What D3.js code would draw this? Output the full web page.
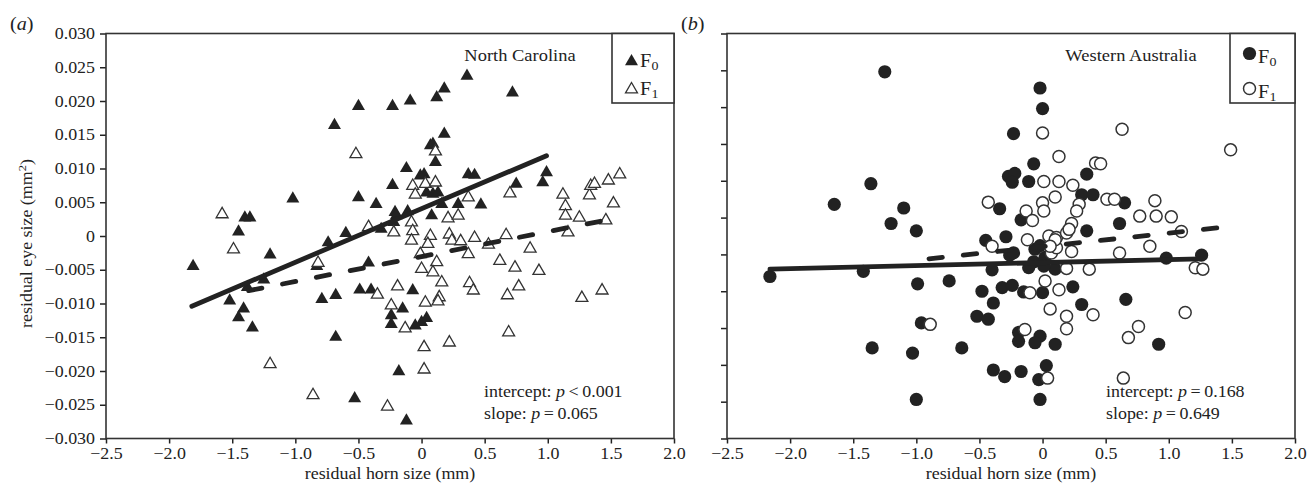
<!DOCTYPE html>
<html>
<head>
<meta charset="utf-8">
<script src="https://cdn.jsdelivr.net/npm/d3@7"></script>
<style>
  body { margin: 0; background: #fff; }
  svg { display: block; }
</style>
</head>
<body>
<svg id="chart" width="1308" height="485"></svg>
<script>
// ---- residual horn size (mm) vs residual eye size (mm^2) ----

// North Carolina, F0 generation [horn, eye]
const ncF0 = [
  [0.36,0.0240],[0.18,0.0221],[0.12,0.0208],[0.72,0.0215],[-0.09,0.0203],[-0.23,0.0195],
  [-0.50,0.0195],[-0.69,0.0167],[0.18,0.0154],[0.07,0.0137],[0.09,0.0139],[0.11,0.0112],
  [-0.12,0.0103],[-0.01,0.0092],[0.02,0.0094],[0.37,0.0094],[0.42,0.0093],[0.99,0.0097],
  [0.75,0.0080],[0.96,0.0082],[-0.23,0.0078],[-0.50,0.0060],[-0.36,0.0050],[0.04,0.0067],
  [0.09,0.0065],[0.13,0.0067],[0.16,0.0050],[0.29,0.0050],[0.47,0.0049],[-1.02,0.0058],
  [-1.40,0.0030],[-1.36,0.0030],[-1.45,0.0009],[-0.60,0.0007],[-0.74,-0.0007],[-0.21,0.0038],
  [-0.11,0.0039],[0.08,0.0033],[-0.20,0.0033],[-0.22,0.0023],[-0.32,0.0013],[-1.20,-0.0025],
  [-1.81,-0.0042],[-0.42,-0.0037],[-0.83,-0.0042],[-1.25,-0.0062],[-1.38,-0.0073],[-1.52,-0.0093],
  [-1.41,-0.0105],[-1.45,-0.0118],[-1.34,-0.0133],[-0.79,-0.0091],[-0.68,-0.0085],[-0.49,-0.0077],
  [-0.40,-0.0077],[-0.68,-0.0147],[-0.15,-0.0105],[-0.24,-0.0115],[-0.24,-0.0128],[-0.18,-0.0198],
  [-0.53,-0.0238],[-0.12,-0.0271],[-0.05,-0.0130],[0.00,-0.0125],[0.04,-0.0119],[-0.07,-0.0078]
];

// North Carolina, F1 generation
const ncF1 = [
  [-0.52,0.0124],[-1.58,0.0035],[-1.49,-0.0017],[-0.82,-0.0037],[-0.42,0.0016],[-0.22,0.0008],
  [-0.19,-0.0072],[-0.35,-0.0084],[-0.24,-0.0100],[-0.13,-0.0134],[-1.20,-0.0187],[-0.86,-0.0233],
  [-0.27,-0.0250],[0.11,0.0128],[-0.07,0.0077],[0.03,0.0080],[0.11,0.0082],[-0.05,0.0064],
  [0.37,0.0060],[0.70,0.0066],[1.12,0.0064],[1.33,0.0063],[1.34,0.0077],[1.37,0.0080],
  [1.48,0.0085],[1.57,0.0094],[1.52,0.0051],[1.14,0.0047],[1.14,0.0033],[1.25,0.0030],
  [0.21,0.0029],[0.29,0.0033],[-0.08,0.0023],[-0.07,0.0010],[-0.08,-0.0004],[0.07,0.0003],
  [0.05,-0.0009],[0.22,0.0005],[0.24,-0.0004],[0.31,-0.0005],[0.42,0.0000],[0.53,-0.0010],
  [0.67,0.0004],[0.86,-0.0016],[1.16,0.0008],[1.46,0.0026],[-0.01,-0.0024],[0.12,-0.0036],
  [0.37,-0.0024],[0.62,-0.0034],[0.74,-0.0044],[0.93,-0.0049],[0.00,-0.0046],[0.09,-0.0051],
  [0.16,-0.0066],[0.38,-0.0067],[0.41,-0.0078],[0.68,-0.0085],[0.77,-0.0072],[1.27,-0.0089],
  [1.43,-0.0078],[0.03,-0.0096],[0.14,-0.0088],[0.13,-0.0094],[0.02,-0.0162],[0.22,-0.0155],
  [0.69,-0.0140],[0.02,-0.0195]
];

// Western Australia, F0 generation
const waF0 = [
  [-1.25,0.0248],[-0.02,0.0226],[0.00,0.0198],[-0.23,0.0164],[-0.07,0.0123],[-0.27,0.0106],
  [-0.22,0.0110],[-0.24,0.0098],[-0.11,0.0099],[-1.10,0.0063],[-0.34,0.0062],[-0.17,0.0047],
  [-1.00,0.0032],[-0.45,0.0019],[-0.29,0.0024],[-0.26,-0.0001],[-0.23,0.0002],[-0.06,0.0007],
  [-0.02,0.0012],[-0.07,-0.0010],[0.02,-0.0004],[-0.40,-0.0021],[-0.11,-0.0018],[0.10,-0.0020],
  [0.01,-0.0016],[-0.99,-0.0040],[-0.74,-0.0036],[-0.48,-0.0050],[-0.32,-0.0045],[-0.24,-0.0042],
  [-0.15,-0.0051],[0.00,-0.0052],[0.24,-0.0044],[-0.39,-0.0066],[-0.52,-0.0084],[-0.43,-0.0088],
  [-0.96,-0.0093],[-0.19,-0.0106],[-0.19,-0.0118],[-0.02,-0.0111],[-0.06,-0.0120],[0.10,-0.0122],
  [-1.03,-0.0134],[-0.64,-0.0127],[-0.39,-0.0157],[-0.30,-0.0166],[-0.17,-0.0159],[0.03,-0.0151],
  [-0.03,-0.0170],[-1.00,-0.0197],[-0.02,-0.0197],[-2.16,-0.0030],[-1.42,-0.0023],[-1.35,-0.0127],
  [-1.36,0.0096],[-1.65,0.0068],[-1.20,0.0042],[0.35,0.0109],[0.31,0.0081],[0.40,0.0081],
  [0.65,0.0070],[0.61,0.0042],[0.35,0.0032],[0.98,-0.0005],[1.26,-0.0001],[0.66,-0.0061],
  [0.31,-0.0068],[0.92,-0.0122]
];

// Western Australia, F1 generation
const waF1 = [
  [0.00,0.0165],[0.13,0.0133],[-0.43,0.0071],[0.01,0.0099],[0.13,0.0099],[0.24,0.0094],
  [0.00,0.0070],[0.10,0.0078],[-0.13,0.0059],[-0.08,0.0046],[0.01,0.0059],[0.23,0.0042],
  [-0.12,0.0020],[0.05,0.0025],[0.11,0.0023],[0.19,0.0029],[-0.40,0.0011],[0.07,0.0002],
  [0.11,0.0009],[0.23,0.0004],[0.19,-0.0019],[0.02,-0.0036],[-0.10,-0.0052],[0.13,-0.0048],
  [0.06,-0.0074],[0.19,-0.0084],[0.19,-0.0101],[-0.14,-0.0102],[-0.89,-0.0095],[0.04,-0.0168],
  [0.63,0.0170],[1.49,0.0142],[0.42,0.0124],[0.46,0.0123],[0.51,0.0075],[0.57,0.0075],
  [0.29,0.0068],[0.27,0.0059],[0.89,0.0073],[0.77,0.0052],[0.90,0.0052],[1.02,0.0051],
  [0.21,0.0034],[1.10,0.0031],[0.10,0.0020],[0.06,0.0011],[0.85,0.0011],[0.61,0.0002],
  [0.37,-0.0020],[1.21,-0.0018],[1.27,-0.0020],[0.40,-0.0082],[1.13,-0.0079],[0.76,-0.0098],
  [0.68,-0.0113],[0.64,-0.0168]
];

// fitted regression lines (endpoints): solid = F0, dashed = F1
const ncF0Fit = [[-1.82,-0.0104],[0.99,0.0119]];
const ncF1Fit = [[-1.37,-0.0081],[1.53,0.0026]];
const waF0Fit = [[-2.16,-0.0020],[1.25,-0.0006]];
const waF1Fit = [[-0.90,-0.0006],[1.44,0.0037]];

// axis ticks
const xTicks  = [-2.5,-2.0,-1.5,-1.0,-0.5,0,0.5,1.0,1.5,2.0];
const yTicksA = [-0.030,-0.025,-0.020,-0.015,-0.010,-0.005,0,0.005,0.010,0.015,0.020,0.025,0.030];
const yTicksB = [-0.025,-0.020,-0.015,-0.010,-0.005,0,0.005,0.010,0.015,0.020,0.025,0.030];

const regions  = ["North Carolina", "Western Australia"];
const panelTags = ["a", "b"];
const statsA = [["intercept: ", "p", "\u2009<\u20090.001"], ["slope: ", "p", "\u2009=\u20090.065"]];
const statsB = [["intercept: ", "p", "\u2009=\u20090.168"], ["slope: ", "p", "\u2009=\u20090.649"]];
const xTitle = "residual horn size (mm)";

// ---- drawing ----
const FONT = '"Liberation Serif","Times New Roman",Times,serif';
const INK = "#222";
const SX = 1.12;   // the typeface used here is set a little wide

const svg = d3.select("#chart");

function stext(parent, x, y, anchor, size, parts, rotate) {
  const g = parent.append("g")
    .attr("transform", `translate(${x},${y})${rotate ? ` rotate(${rotate})` : ""} scale(${SX},1)`);
  const t = g.append("text")
    .attr("text-anchor", anchor)
    .attr("font-family", FONT)
    .attr("font-size", size)
    .attr("fill", INK);
  parts.forEach(p => {
    const ts = t.append("tspan").text(p.t);
    if (p.i) ts.attr("font-style", "italic");
    if (p.sup) ts.attr("font-size", size * 0.7).attr("dy", -size * 0.38);
    if (p.after) ts.attr("dy", size * 0.38);
  });
  return t;
}

const fmtY = v => Math.abs(v) < 1e-9 ? "0" : d3.format(".3f")(v);
const fmtX = v => Math.abs(v) < 1e-9 ? "0" : d3.format(".1f")(v);

const panels = [
  {
    left: 106, right: 674, top: 33.5, bottom: 438.5,
    yDomain: [-0.030, 0.030], yTicks: yTicksA, yLabels: true,
    f0: ncF0, f1: ncF1, fit0: ncF0Fit, fit1: ncF1Fit, shape: "triangle",
    region: regions[0], regionX: 520, stats: statsA, statsX: 484,
    legend: { x: 612, y: 33.5, w: 62, h: 69.5, symX: 631.5, textX: 640, rows: [59.5, 87.5], base: 7 },
    tag: panelTags[0], tagX: 10
  },
  {
    left: 727, right: 1295, top: 33.5, bottom: 438.5,
    yDomain: [-0.025, 0.030], yTicks: yTicksB, yLabels: false,
    f0: waF0, f1: waF1, fit0: waF0Fit, fit1: waF1Fit, shape: "circle",
    region: regions[1], regionX: 1131, stats: statsB, statsX: 1106,
    legend: { x: 1230, y: 33.5, w: 65, h: 69.5, symX: 1249.5, textX: 1258, rows: [53.5, 88.5], base: 9 },
    tag: panelTags[1], tagX: 681
  }
];

const triFilled = d3.symbol().type(d3.symbolTriangle).size(73)();
const triOpen = d3.symbol().type(d3.symbolTriangle).size(62)();
const TRI_DY = 1.9;

function drawMarker(g, x, y, shape, filled) {
  if (shape === "triangle") {
    g.append("path")
      .attr("d", filled ? triFilled : triOpen)
      .attr("transform", `translate(${x},${y + TRI_DY})`)
      .attr("fill", filled ? INK : "#fff")
      .attr("stroke", filled ? "none" : "#333")
      .attr("stroke-width", filled ? 0 : 1.3);
  } else {
    g.append("circle")
      .attr("cx", x).attr("cy", y)
      .attr("r", filled ? 6.6 : 6.0)
      .attr("fill", filled ? INK : "#fff")
      .attr("stroke", filled ? "none" : "#333")
      .attr("stroke-width", filled ? 0 : 1.5);
  }
}

panels.forEach(p => {
  const x = d3.scaleLinear().domain([-2.5, 2.0]).range([p.left, p.right]);
  const y = d3.scaleLinear().domain(p.yDomain).range([p.bottom, p.top]);
  const g = svg.append("g");

  // y axis
  const ya = g.append("g").attr("transform", `translate(${p.left},0)`)
    .call(d3.axisLeft(y).tickValues(p.yTicks).tickSize(6).tickPadding(5)
      .tickFormat(p.yLabels ? fmtY : () => ""));
  ya.select(".domain").remove();
  ya.selectAll(".tick line").attr("stroke", INK).attr("stroke-width", 1.5);
  ya.selectAll(".tick text")
    .attr("font-family", FONT).attr("font-size", 16).attr("fill", INK)
    .attr("x", -11 / SX).attr("transform", `scale(${SX},1)`);

  // x axis
  const xa = g.append("g").attr("transform", `translate(0,${p.bottom})`)
    .call(d3.axisBottom(x).tickValues(xTicks).tickSize(5).tickPadding(4).tickFormat(fmtX));
  xa.select(".domain").remove();
  xa.selectAll(".tick line").attr("stroke", INK).attr("stroke-width", 1.5);
  xa.selectAll(".tick text")
    .attr("font-family", FONT).attr("font-size", 16).attr("fill", INK)
    .attr("transform", `scale(${SX},1)`);

  // frame
  g.append("rect")
    .attr("x", p.left).attr("y", p.top)
    .attr("width", p.right - p.left).attr("height", p.bottom - p.top)
    .attr("fill", "none").attr("stroke", "#333").attr("stroke-width", 1.6);

  // points: F0 underneath, F1 on top
  const pts = g.append("g");
  p.f0.forEach(d => drawMarker(pts, x(d[0]), y(d[1]), p.shape, true));
  p.f1.forEach(d => drawMarker(pts, x(d[0]), y(d[1]), p.shape, false));

  // regression lines
  const line = d3.line().x(d => x(d[0])).y(d => y(d[1]));
  g.append("path").attr("d", line(p.fit0))
    .attr("fill", "none").attr("stroke", INK).attr("stroke-width", 4.8)
    .attr("stroke-linecap", "round");
  g.append("path").attr("d", line(p.fit1))
    .attr("fill", "none").attr("stroke", INK).attr("stroke-width", 4.8)
    .attr("stroke-linecap", "round").attr("stroke-dasharray", "13.5,21");

  // region name
  stext(g, p.regionX, 61, "middle", 16.5, [{ t: p.region }]);

  // legend
  const L = p.legend;
  g.append("rect").attr("x", L.x).attr("y", L.y).attr("width", L.w).attr("height", L.h)
    .attr("fill", "#fff").attr("stroke", "#333").attr("stroke-width", 1.6);
  L.rows.forEach((ry, i) => {
    drawMarker(g, L.symX, ry, p.shape, i === 0);
    stext(g, L.textX, ry + L.base, "start", 18, [{ t: "F" }], null);
    stext(g, L.textX + 11.5, ry + L.base + 3, "start", 12.5, [{ t: String(i) }], null);
  });

  // statistics
  p.stats.forEach((s, i) => {
    stext(g, p.statsX, 397 + i * 21.5, "start", 16, [{ t: s[0] }, { t: s[1], i: true }, { t: s[2] }]);
  });

  // x title
  stext(g, (p.left + p.right) / 2, 478.5, "middle", 16, [{ t: xTitle }]);

  // panel tag
  stext(g, p.tagX, 30, "start", 18, [{ t: "(" }, { t: p.tag, i: true }, { t: ")" }]);
});

// y title (left panel only)
stext(svg, 32, 243.5, "middle", 16, [{ t: "residual eye size (mm" }, { t: "2", sup: true }, { t: ")", after: true }], -90);
</script>
</body>
</html>
